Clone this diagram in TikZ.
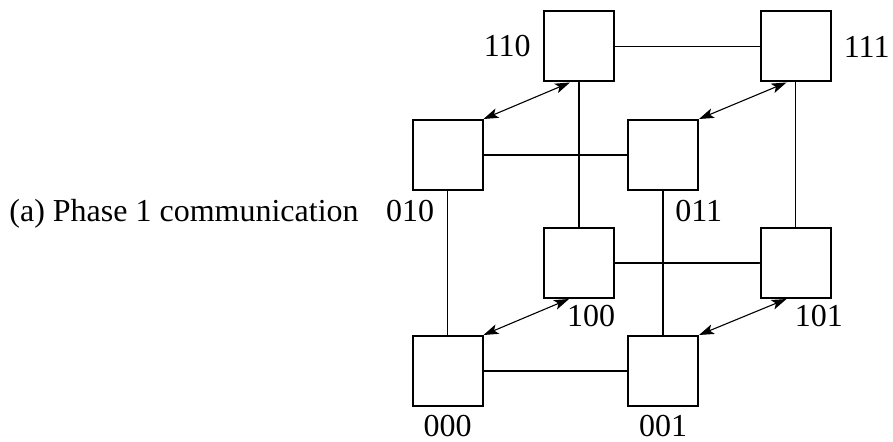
\documentclass[tikz,border=0pt]{standalone}
\usepackage{fontspec}
\setmainfont{Liberation Serif}
\usetikzlibrary{arrows.meta}

\begin{document}
\begin{tikzpicture}[line cap=round,line join=miter,x=0.5pt,y=-0.5pt,
  proc/.style={draw,line width=1pt,minimum size=35pt,inner sep=0pt},
  lab/.style={inner sep=0pt,font=\fontsize{16}{19}\selectfont},
  link/.style={line width=0.8pt},
  xchg/.style={line width=0.55pt,{Stealth[length=7.5pt,width=5pt,inset=1.8pt]}-{Stealth[length=7.5pt,width=5pt,inset=1.8pt]}}]
\useasboundingbox (0,0) rectangle (893,442);
% processors of the 3-cube
\node[proc] (b110) at (579,46.5) {};
\node[proc] (b111) at (795.5,46.5) {};
\node[proc] (b010) at (447.5,155) {};
\node[proc] (b011) at (663,155) {};
\node[proc] (b100) at (579,263) {};
\node[proc] (b101) at (795.5,263) {};
\node[proc] (b000) at (447.5,371) {};
\node[proc] (b001) at (663,371) {};
% cube edges
\draw[link] (b110.east) -- (b111.west);
\draw[link] (b010.east) -- (b011.west);
\draw[link] (b100.east) -- (b101.west);
\draw[link] (b000.east) -- (b001.west);
\draw[link] (b110.south) -- (b100.north);
\draw[link] (b111.south) -- (b101.north);
\draw[link] (b010.south) -- (b000.north);
\draw[link] (b011.south) -- (b001.north);
% phase 1 exchanges
\draw[xchg] (b010.north east) -- ([xshift=-4.5pt]b110.south);
\draw[xchg] (b011.north east) -- ([xshift=-4.5pt]b111.south);
\draw[xchg] (b000.north east) -- ([xshift=-5pt]b100.south);
\draw[xchg] (b001.north east) -- ([xshift=-4.5pt]b101.south);
% labels
\node[lab,anchor=east] (l110) at ([xshift=-6pt]b110.west) {110};
\node[lab,anchor=west] (l111) at ([xshift=6pt]b111.east) {111};
\node[lab,anchor=north east] (l010) at ([xshift=-6.5pt,yshift=-4.5pt]b010.south) {010};
\node[lab,anchor=north west] (l011) at ([xshift=6pt,yshift=-4.5pt]b011.south) {011};
\node[lab,anchor=north west] (l100) at ([xshift=-6.2pt,yshift=-3pt]b100.south) {100};
\node[lab,anchor=north west] (l101) at ([xshift=-0.5pt,yshift=-3pt]b101.south) {101};
\node[lab,anchor=north] (l000) at ([yshift=-4pt]b000.south) {000};
\node[lab,anchor=north] (l001) at ([yshift=-4pt]b001.south) {001};
\node[lab,anchor=base west] (cap) at (9,221.5) {(a) Phase 1 communication};
\end{tikzpicture}
\end{document}
